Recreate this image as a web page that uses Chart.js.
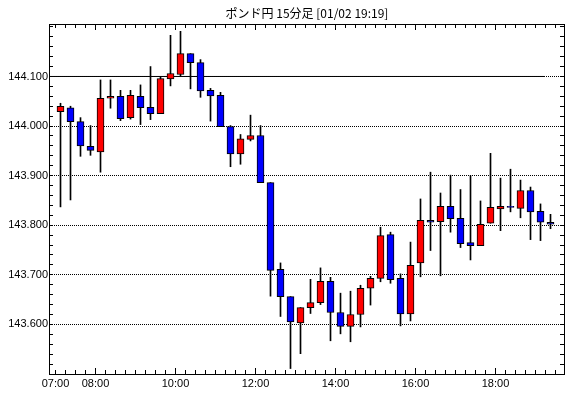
<!DOCTYPE html>
<html>
<head>
<meta charset="utf-8">
<script src="https://cdn.jsdelivr.net/npm/chart.js@4/dist/chart.umd.min.js"></script>
<style>
  html, body { margin: 0; padding: 0; background: #fff; }
  #wrap { width: 570px; height: 398px; }
</style>
</head>
<body>
<div id="wrap"><canvas id="myPlot"></canvas></div>
<script>
// 15 min candles, GBP/JPY
const times = ['07:00','07:15','07:30','07:45','08:00','08:15','08:30','08:45','09:00','09:15',
               '09:30','09:45','10:00','10:15','10:30','10:45','11:00','11:15','11:30','11:45',
               '12:00','12:15','12:30','12:45','13:00','13:15','13:30','13:45','14:00','14:15',
               '14:30','14:45','15:00','15:15','15:30','15:45','16:00','16:15','16:30','16:45',
               '17:00','17:15','17:30','17:45','18:00','18:15','18:30','18:45','19:00','19:15'];
const opens  = [144.029,144.037,144.009,143.959,143.948,144.056,144.060,144.017,144.060,144.038,
                144.025,144.095,144.104,144.146,144.128,144.072,144.062,143.999,143.944,143.973,
                143.981,143.886,143.711,143.656,143.603,143.634,143.644,143.687,143.624,143.596,
                143.620,143.673,143.693,143.781,143.693,143.621,143.724,143.810,143.807,143.838,
                143.814,143.765,143.759,143.804,143.833,143.838,143.834,143.870,143.828,143.806];
const highs  = [144.046,144.040,144.017,144.001,144.093,144.093,144.072,144.072,144.083,144.120,
                144.099,144.183,144.191,144.146,144.134,144.076,144.068,144.001,143.983,144.022,
                144.001,143.886,143.724,143.656,143.634,143.691,143.714,143.695,143.663,143.667,
                143.679,143.697,143.796,143.786,143.702,143.766,143.853,143.907,143.865,143.901,
                143.872,143.900,143.849,143.945,143.895,143.913,143.891,143.877,143.843,143.822];
const lows   = [143.837,143.851,143.939,143.941,143.907,144.036,144.011,144.014,144.003,144.013,
                144.025,144.081,144.101,144.075,144.058,144.010,143.999,143.918,143.923,143.970,
                143.886,143.657,143.616,143.511,143.541,143.622,143.640,143.567,143.581,143.565,
                143.595,143.639,143.686,143.683,143.597,143.607,143.696,143.749,143.698,143.786,
                143.755,143.730,143.759,143.804,143.789,143.827,143.815,143.771,143.769,143.793];
const closes = [144.040,144.009,143.960,143.951,144.056,144.060,144.015,144.062,144.037,144.025,
                144.096,144.106,144.146,144.128,144.071,144.061,143.999,143.944,143.974,143.981,
                143.886,143.709,143.656,143.605,143.634,143.644,143.687,143.624,143.596,143.620,
                143.673,143.693,143.779,143.690,143.621,143.719,143.810,143.806,143.838,143.813,
                143.763,143.759,143.802,143.836,143.838,143.836,143.870,143.827,143.806,143.802];

const xTickLabels = ['07:00','08:00','10:00','12:00','14:00','16:00','18:00'];
const yTickValues = [143.6, 143.7, 143.8, 143.9, 144.0, 144.1];
const refLevel = 144.1;   // solid reference line
const refEnd = 48.4;      // candle index where it stops

const title = 'ポンド円 15分足 [01/02 19:19]';

const xMin = -1.05, xMax = 50.35;
const yMin = 143.5, yMax = 144.2038;

function toMin(t) {
    const p = t.split(':');
    return +p[0] * 60 + +p[1];
}
const t0 = toMin(times[0]);
const posOf = t => (toMin(t) - t0) / 15 - 0.5;

const bodyColors = opens.map((o, i) => closes[i] >= o ? '#ff0000' : '#0000ff');

const frameTicks = {
    id: 'frameTicks',
    afterDatasetsDraw(chart) {
        const {ctx, chartArea: a, scales: {x, y}} = chart;
        ctx.save();
        ctx.strokeStyle = '#000';
        ctx.lineWidth = 1;
        ctx.strokeRect(a.left - 0.5, a.top - 0.5, a.right - a.left + 1, a.bottom - a.top + 1);
        ctx.beginPath();
        for (let i = 0; ; i++) {
            const v = yMin + i * 0.02;
            if (v > yMax) break;
            const py = Math.floor(y.getPixelForValue(v)) + 0.5;
            ctx.moveTo(a.left, py); ctx.lineTo(a.left + 3, py);
            ctx.moveTo(a.right, py); ctx.lineTo(a.right - 4, py);
        }
        for (let k = -0.5; k <= xMax; k++) {
            const px = Math.floor(x.getPixelForValue(k)) + 0.5;
            const m = t0 + (k + 0.5) * 15;
            const tall = m % 120 === 0;
            ctx.moveTo(px, a.bottom); ctx.lineTo(px, a.bottom - (tall ? 6 : 4));
            ctx.moveTo(px, a.top); ctx.lineTo(px, a.top + (tall ? 5 : 3));
        }
        ctx.stroke();
        ctx.restore();
    }
};

new Chart(document.getElementById('myPlot'), {
    type: 'bar',
    data: {
        datasets: [{
            type: 'line',
            data: [{x: xMin, y: refLevel}, {x: refEnd, y: refLevel}],
            borderColor: '#000',
            borderWidth: 1,
            pointRadius: 0,
            order: 3
        }, {
            data: times.map((t, i) => ({x: i, y: [lows[i], highs[i]]})),
            backgroundColor: '#000',
            barThickness: 1,
            grouped: false,
            order: 2
        }, {
            data: times.map((t, i) => ({x: i, y: [opens[i], closes[i]]})),
            backgroundColor: bodyColors,
            borderColor: '#000',
            borderWidth: 1,
            borderSkipped: false,
            barThickness: 7,
            grouped: false,
            order: 1
        }]
    },
    options: {
        animation: false,
        maintainAspectRatio: false,
        responsive: true,
        layout: { padding: { left: 0, right: 6, top: 0, bottom: 0 } },
        plugins: {
            legend: { display: false },
            tooltip: { enabled: false },
            title: {
                display: true,
                text: title,
                fullSize: false,
                color: '#000',
                font: { family: '"Noto Sans CJK JP", sans-serif', size: 12, weight: 'normal', lineHeight: 1.2 },
                padding: { top: 6, bottom: 4.6 }
            }
        },
        scales: {
            x: {
                type: 'linear',
                min: xMin,
                max: xMax,
                offset: false,
                grid: { display: false, offset: false, drawTicks: false },
                border: { display: false },
                afterBuildTicks: s => { s.ticks = xTickLabels.map(t => ({value: posOf(t)})); },
                afterFit: s => { s.height = 24; },
                ticks: {
                    autoSkip: false,
                    maxRotation: 0,
                    padding: 3,
                    color: '#000',
                    font: { family: '"Liberation Sans", Arial, sans-serif', size: 11 },
                    callback: (v, i) => xTickLabels[i]
                }
            },
            y: {
                type: 'linear',
                min: yMin,
                max: yMax,
                grid: { color: '#000', lineWidth: 1, drawTicks: false },
                border: { display: false, dash: [1, 1] },
                afterBuildTicks: s => { s.ticks = yTickValues.map(v => ({value: v})); },
                afterFit: s => { s.width = 50; },
                ticks: {
                    padding: 2,
                    color: '#000',
                    font: { family: '"Liberation Sans", Arial, sans-serif', size: 11 },
                    callback: v => v.toFixed(3)
                }
            }
        }
    },
    plugins: [frameTicks]
});
</script>
</body>
</html>
